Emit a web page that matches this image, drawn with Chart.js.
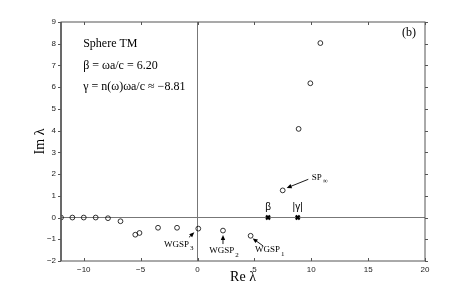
<!DOCTYPE html>
<html><head><meta charset="utf-8">
<script src="https://cdn.jsdelivr.net/npm/chart.js@4/dist/chart.umd.min.js"></script>
<style>html,body{margin:0;padding:0;background:#fff}#wrap{width:469px;height:294px}</style>
</head><body><div id="wrap"><canvas id="c" width="469" height="294"></canvas></div>
<script>
// Data
const reValues = [-12.0, -11.0, -10.0, -8.95, -7.87, -6.77, -5.47, -5.1, -3.47, -1.8, 0.07, 2.24, 4.67, 7.49, 8.89, 9.92, 10.8];
const imValues = [0.0, 0.0, 0.0, 0.0, -0.03, -0.17, -0.79, -0.71, -0.47, -0.47, -0.51, -0.60, -0.84, 1.25, 4.08, 6.18, 8.03];
const markerRe = [6.20, 8.81];
const markerIm = [0, 0];
const markerLabels = ['β', '|γ|'];
const xTickValues = [-10, -5, 0, 5, 10, 15, 20];
const yTickValues = [-2, -1, 0, 1, 2, 3, 4, 5, 6, 7, 8, 9];
const infoLines = ['Sphere TM', 'β = ωa/c = 6.20', 'γ = n(ω)ωa/c ≈ −8.81'];

const circlePts = reValues.map((x, i) => ({x, y: imValues[i]}));
const crossPts = markerRe.map((x, i) => ({x, y: markerIm[i]}));

const serif = '"Liberation Serif","DejaVu Serif",serif';
const sans = '"Liberation Sans","DejaVu Sans",sans-serif';

// annotation anchors (data coords)
const labels = [
  {main: 'WGSP', sub: '3', x: -2.95, y: -1.23, ax1: -0.75, ay1: -0.91, ax2: -0.28, ay2: -0.68},
  {main: 'WGSP', sub: '2', x: 1.04, y: -1.54, ax1: 2.24, ay1: -1.22, ax2: 2.24, ay2: -0.80},
  {main: 'WGSP', sub: '1', x: 5.05, y: -1.49, ax1: 5.78, ay1: -1.31, ax2: 4.85, ay2: -0.96},
  {main: 'SP', sub: '∞', x: 10.04, y: 1.85, ax1: 9.74, ay1: 1.76, ax2: 7.84, ay2: 1.36}
];

function arrow(ctx, x1, y1, x2, y2) {
  const a = Math.atan2(y2 - y1, x2 - x1);
  const hl = 5, hw = 2.2;
  ctx.beginPath(); ctx.moveTo(x1, y1); ctx.lineTo(x2 - Math.cos(a) * hl * 0.8, y2 - Math.sin(a) * hl * 0.8); ctx.stroke();
  ctx.beginPath();
  ctx.moveTo(x2, y2);
  ctx.lineTo(x2 - hl * Math.cos(a) + hw * Math.sin(a), y2 - hl * Math.sin(a) - hw * Math.cos(a));
  ctx.lineTo(x2 - hl * Math.cos(a) - hw * Math.sin(a), y2 - hl * Math.sin(a) + hw * Math.cos(a));
  ctx.closePath(); ctx.fill();
}

const deco = {
  id: 'deco',
  afterDraw(chart) {
    const {ctx, chartArea: a, scales: {x, y}} = chart;
    ctx.save();
    // frame
    ctx.strokeStyle = '#555'; ctx.lineWidth = 1;
    ctx.strokeRect(a.left, a.top, a.right - a.left, a.bottom - a.top);
    ctx.beginPath(); ctx.lineWidth = 1.5; ctx.moveTo(a.left, a.top); ctx.lineTo(a.left, a.bottom); ctx.stroke();
    // ticks
    ctx.lineWidth = 1; ctx.beginPath();
    x.ticks.forEach(t => { const px = Math.round(x.getPixelForValue(t.value)) + 0.5;
      ctx.moveTo(px, a.top); ctx.lineTo(px, a.top + 3);
      ctx.moveTo(px, a.bottom); ctx.lineTo(px, a.bottom - 3); });
    y.ticks.forEach(t => { const py = Math.round(y.getPixelForValue(t.value)) + 0.5;
      ctx.moveTo(a.left, py); ctx.lineTo(a.left - 3, py);
      ctx.moveTo(a.right, py); ctx.lineTo(a.right + 3, py); });
    ctx.stroke();
    ctx.fillStyle = '#000';
    // info text
    ctx.font = '12px ' + serif; ctx.textBaseline = 'middle'; ctx.textAlign = 'left';
    infoLines.forEach((s, i) => ctx.fillText(s, x.getPixelForValue(-10.05), y.getPixelForValue(8 - i)));
    ctx.textAlign = 'center';
    ctx.fillText('(b)', x.getPixelForValue(18.6), y.getPixelForValue(8.5));
    // marker labels
    ctx.font = '10px ' + sans;
    markerRe.forEach((v, i) => ctx.fillText(markerLabels[i], x.getPixelForValue(v), y.getPixelForValue(markerIm[i]) - 10));
    // annotations
    ctx.textAlign = 'left'; ctx.strokeStyle = '#000'; ctx.lineWidth = 0.9;
    labels.forEach(l => {
      const px = x.getPixelForValue(l.x), py = y.getPixelForValue(l.y);
      ctx.font = '9px ' + serif;
      ctx.fillText(l.main, px, py);
      const w = ctx.measureText(l.main).width;
      ctx.font = '7px ' + serif;
      ctx.fillText(l.sub, px + w + 1, py + 4);
      arrow(ctx, x.getPixelForValue(l.ax1), y.getPixelForValue(l.ay1), x.getPixelForValue(l.ax2), y.getPixelForValue(l.ay2));
    });
    // axis titles
    ctx.font = '14px ' + serif; ctx.textAlign = 'center';
    ctx.fillText('Re λ', (a.left + a.right) / 2, 277);
    ctx.save(); ctx.translate(40, (a.top + a.bottom) / 2); ctx.rotate(-Math.PI / 2);
    ctx.fillText('Im λ', 0, 0); ctx.restore();
    ctx.restore();
  }
};

new Chart(document.getElementById('c'), {
  type: 'scatter',
  data: {datasets: [
    {data: circlePts, pointStyle: 'circle', pointRadius: 2.4, borderColor: '#000', backgroundColor: 'rgba(0,0,0,0)', borderWidth: 0.8},
    {data: crossPts, pointStyle: 'crossRot', pointRadius: 2.8, borderColor: '#000', borderWidth: 2.2}
  ]},
  options: {
    responsive: false, animation: false, devicePixelRatio: 1,
    layout: {padding: {top: 22, right: 44, left: 0, bottom: 0}},
    plugins: {legend: {display: false}, tooltip: {enabled: false}},
    scales: {
      x: {type: 'linear', min: -12, max: 20,
        afterBuildTicks: s => { s.ticks = xTickValues.map(v => ({value: v})); },
        afterFit: s => { s.height = 33; },
        border: {display: false},
        grid: {drawTicks: false, color: c => (c.tick && c.tick.value === 0) ? '#777' : 'rgba(0,0,0,0)', lineWidth: 1},
        ticks: {padding: 4, color: '#222', font: {family: sans, size: 8}, maxRotation: 0,
          callback: v => String(v).replace('-', '−')}
      },
      y: {type: 'linear', min: -2, max: 9,
        afterBuildTicks: s => { s.ticks = yTickValues.map(v => ({value: v})); },
        afterFit: s => { s.width = 61; },
        border: {display: false},
        grid: {drawTicks: false, color: c => (c.tick && c.tick.value === 0) ? '#777' : 'rgba(0,0,0,0)', lineWidth: 1},
        ticks: {padding: 5, color: '#222', font: {family: sans, size: 8},
          callback: v => String(v).replace('-', '−')}
      }
    }
  },
  plugins: [deco]
});
</script></body></html>
